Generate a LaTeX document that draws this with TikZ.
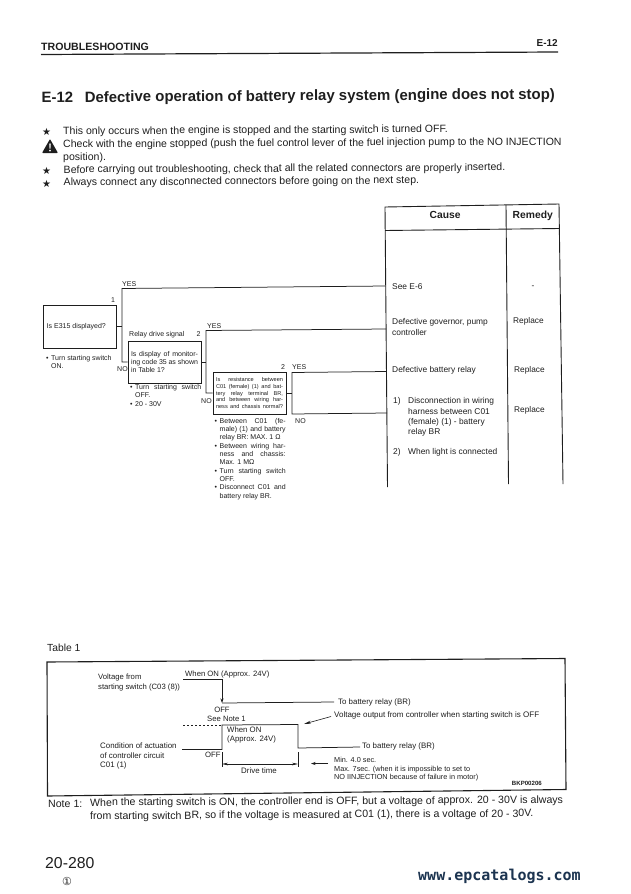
\documentclass[tikz,border=0pt]{standalone}
\usepackage{fontspec}
\setmainfont{Liberation Sans}
\newfontfamily\djv{DejaVu Sans}
\newfontfamily\wmono{DejaVu Sans Mono}
\usetikzlibrary{arrows.meta}
\definecolor{ink}{HTML}{1E1E1E}
\definecolor{wm}{HTML}{1C3450}
\newcommand{\fs}[1]{\fontsize{#1}{#1}\selectfont}
\newcommand{\jl}[2]{\hbox to #1pt{#2}}
\newcommand{\bl}{\llap{•\hskip 2.6pt}}
\newcommand{\tx}[6][]{\node[lbl,#1] (#2) at (#3,#4) {\fs{#5}#6};}
\tikzset{
  lbl/.style={anchor=west,inner sep=0pt,text height=.72em,text depth=.2em,text=ink},
  qbox/.style={draw=ink,line width=.8pt,inner sep=0pt,rectangle,text=ink},
  block/.style={inner sep=0pt,anchor=north west,text=ink},
  wire/.style={draw=ink,line width=.75pt},
  frame/.style={draw=ink,line width=.9pt},
  tip/.style={-{Stealth[length=4.5pt,width=3pt]}},
}
\begin{document}
\begin{tikzpicture}[x=1pt,y=-1pt]
\useasboundingbox (0,0) rectangle (631,894);
% header
\tx{hd}{41}{47.5}{10.6}{\textbf{TROUBLESHOOTING}}
\tx[anchor=east]{hdr}{558}{43.5}{10}{\textbf{E-12}}
\coordinate (rl) at (41,54.5); \coordinate (rr) at (558,52);
\draw[frame,line width=1.2pt] (rl) -- (rr);
\tx[rotate=.4]{title}{41.5}{100}{14.95}{\textbf{E-12\hskip 11.5pt Defective operation of battery relay system (engine does not stop)}}
% notes
\tx{s1}{42}{133}{10}{\djv ★}
\tx[rotate=.3]{n1}{63}{132}{10.55}{This only occurs when the engine is stopped and the starting switch is turned OFF.}
\tx[rotate=.3]{n2}{63}{145}{10.55}{Check with the engine stopped (push the fuel control lever of the fuel injection pump to the NO INJECTION}
\tx{n3}{63}{158}{10.55}{position).}
\tx{s2}{42}{172}{10}{\djv ★}
\tx[rotate=.3]{n4}{63.5}{170.5}{10.55}{Before carrying out troubleshooting, check that all the related connectors are properly inserted.}
\tx{s3}{42}{184.5}{10}{\djv ★}
\tx[rotate=.3]{n5}{63.5}{183}{10.55}{Always connect any disconnected connectors before going on the next step.}
% warning triangle
\fill[ink,rounded corners=.8pt] (42,153) -- (50,139) -- (58,153) -- cycle;
\fill[white] (49.2,143.5) -- (50.8,143.5) -- (50.4,149) -- (49.6,149) -- cycle;
\fill[white] (50,150.6) circle (.9);
% cause table
\coordinate (tl) at (385,207); \coordinate (tr) at (559,204);
\coordinate (hl) at (385,230.5); \coordinate (hr) at (559.5,228.5);
\coordinate (cm) at (506,205); \coordinate (cb) at (508.5,484);
\coordinate (bl) at (387.5,487); \coordinate (br) at (563,484);
\draw[frame] (bl) -- (tl) -- (tr) -- (br);
\draw[frame] (hl) -- (hr);
\draw[frame] (cm) -- (cb);
\node[lbl] (cause) at (429.5,216) {\fs{10.3}\textbf{Cause}};
\node[lbl] (remedy) at (512.5,215.5) {\fs{10.3}\textbf{Remedy}};
\tx{c1t}{392}{287}{8.4}{See E-6}
\tx{c2t}{392}{322}{8.4}{Defective governor, pump}
\tx{c2u}{392}{333}{8.4}{controller}
\tx{c3t}{392}{370}{8.4}{Defective battery relay}
\tx{c4n}{393}{401}{8.4}{1)}
\tx{c4t}{408}{401}{8.4}{Disconnection in wiring}
\tx{c4u}{408}{411.5}{8.4}{harness between C01}
\tx{c4v}{408}{422}{8.4}{(female) (1) - battery}
\tx{c4w}{408}{432}{8.4}{relay BR}
\tx{c5n}{393}{452}{8.4}{2)}
\tx{c5t}{408}{452}{8.4}{When light is connected}
\tx[anchor=center]{r1}{533}{286}{8.3}{-}
\tx{r2}{513}{321}{8.3}{Replace}
\tx{r3}{514}{370}{8.3}{Replace}
\tx{r4}{514}{410}{8.3}{Replace}
% question boxes
\node[qbox,minimum width=73pt,minimum height=43pt] (q1) at (79.7,326.5) {\hbox to 66pt{\fs{7}Is E315 displayed?\hfil}};
\node[qbox,minimum width=73pt,minimum height=42pt] (q2) at (164.5,362) {\fs{7}\vbox{\baselineskip=8.4pt\jl{67}{Is display of monitor-}\jl{67}{ing code 35 as shown}\jl{67}{in Table 1?\hfil}}};
\node[qbox,minimum width=73pt,minimum height=42pt] (q3) at (249.5,393) {\fs{5.6}\vbox{\baselineskip=6.9pt\jl{67}{Is resistance between}\jl{67}{C01 (female) (1) and bat-}\jl{67}{tery relay terminal BR,}\jl{67}{and between wiring har-}\jl{67}{ness and chassis normal?}}};
% connector points
\coordinate (j1) at (122,326.5); \coordinate (u1) at (122,288.5); \coordinate (c1) at (385.6,286);
\coordinate (j2) at (206,362);   \coordinate (u2) at (206,330.5); \coordinate (c2) at (386,329);
\coordinate (j3) at (292,393);   \coordinate (u3) at (292,372.5); \coordinate (c3) at (386.5,371.5);
\coordinate (d3) at (292,414);   \coordinate (c4) at (387,413);
\draw[wire] (q1.east) -- (j1);
\draw[wire] (c1) -- (u1) -- (122,362) -- (q2.west);
\draw[wire] (q2.east) -- (j2);
\draw[wire] (c2) -- (u2) -- (206,393) -- (q3.west);
\draw[wire] (q3.east) -- (j3);
\draw[wire] (c3) -- (u3) -- (d3) -- (c4);
% flow labels
\tx{y1}{122}{283.5}{7}{YES}
\tx[anchor=center]{k1}{113}{299.5}{7}{1}
\tx{no1}{117}{368.5}{7}{NO}
\tx{rd}{129}{334}{7}{Relay drive signal}
\tx[anchor=center]{k2}{198.5}{334}{7}{2}
\tx{y2}{207}{325.5}{7}{YES}
\tx{no2}{201}{401}{7}{NO}
\tx[anchor=center]{k3}{283}{367}{7}{2}
\tx{y3}{292}{367}{7}{YES}
\tx{no3}{295}{420.5}{7}{NO}
% condition lists
\node[block] (l1) at (51,355) {\fs{7}\vbox{\baselineskip=8.4pt\hbox{\bl Turn starting switch}\hbox{ON.}}};
\node[block] (l2) at (135,384) {\fs{7}\vbox{\baselineskip=8.4pt\jl{66}{\bl Turn starting switch}\hbox{OFF.}\hbox{\bl 20 - 30V}}};
\node[block] (l3) at (219.5,418) {\fs{7}\vbox{\baselineskip=8.33pt\jl{66}{\bl Between C01 (fe-}\jl{66}{male) (1) and battery}\jl{66}{relay BR: MAX. 1 Ω\hfil}\jl{66}{\bl Between wiring har-}\jl{66}{ness and chassis:}\hbox{Max. 1 MΩ}\jl{66}{\bl Turn starting switch}\hbox{OFF.}\jl{66}{\bl Disconnect C01 and}\hbox{battery relay BR.}}};
% Table 1
\tx{tb}{47}{649}{10.3}{Table 1}
\coordinate (ba) at (47,662); \coordinate (bb) at (565,658.5);
\coordinate (bc) at (566,789.5); \coordinate (bd) at (47.5,796);
\draw[frame,line width=1.1pt] (ba) -- (bb) -- (bc) -- (bd) -- cycle;
\tx{v1}{98}{677}{7.7}{Voltage from}
\tx{v2}{98}{687}{7.7}{starting switch (C03 (8))}
\tx{w1}{185}{674}{7.7}{When ON (Approx. 24V)}
\tx[anchor=center]{of1}{222}{709.5}{7.7}{OFF}
\tx{sn}{207}{719}{7.7}{See Note 1}
\tx{w2}{227}{730}{7.8}{When ON}
\tx{w3}{227}{739}{7.8}{(Approx. 24V)}
\tx{a1}{100}{746}{7.9}{Condition of actuation}
\tx{a2}{100}{756}{7.9}{of controller circuit}
\tx{a3}{100}{765}{7.9}{C01 (1)}
\tx{of2}{205}{755}{7.7}{OFF}
\tx[anchor=center]{dt}{259}{771}{7.9}{Drive time}
\tx{b1}{338}{702}{7.9}{To battery relay (BR)}
\tx{vo}{334}{714.5}{8}{Voltage output from controller when starting switch is OFF}
\tx{b2}{362}{746}{7.9}{To battery relay (BR)}
\tx{m1}{334}{759.5}{7.3}{Min. 4.0 sec.}
\tx{m2}{334}{768.5}{7.3}{Max. 7sec. (when it is impossible to set to}
\tx{m3}{334}{777}{7.3}{NO IINJECTION because of failure in motor)}
\tx[anchor=east]{bk}{542}{782.5}{6.1}{\textbf{BKP00206}}
% timing traces
\coordinate (p1) at (183,679); \coordinate (p2) at (222,679); \coordinate (p3) at (222,703); \coordinate (p4) at (334,702);
\draw[wire,tip] (p1) -- (p2) -- (p3);
\draw[wire] (p3) -- (p4);
\coordinate (e0) at (183,725); \coordinate (e1) at (222,725); \coordinate (e2) at (298,724.5);
\coordinate (f0) at (182,749.5); \coordinate (f1) at (222,749.5); \coordinate (f2) at (298,748); \coordinate (f3) at (360,747);
\draw[wire,dashed,dash pattern=on 2.2pt off 1.8pt] (e0) -- (e1);
\draw[wire] (f0) -- (f1) -- (e1) -- (e2) -- (f2) -- (f3);
\coordinate (t1a) at (222,752); \coordinate (t1b) at (222,767); \coordinate (t2a) at (298,752); \coordinate (t2b) at (298,767);
\coordinate (t1m) at (222,764); \coordinate (t2m) at (298,764);
\draw[wire,line width=.6pt] (t1a) -- (t1b);
\draw[wire,line width=.6pt] (t2a) -- (t2b);
\draw[wire,line width=.6pt,{Stealth[length=6pt,width=2.6pt]}-{Stealth[length=6pt,width=2.6pt]}] (t1m) -- (t2m);
\coordinate (ma) at (328,763.5); \coordinate (mb) at (311,763.5);
\draw[wire,tip] (ma) -- (mb);
\coordinate (va) at (331,716.5); \coordinate (vb) at (304,724);
\draw[wire,line width=.6pt,-{Stealth[length=7pt,width=3pt]}] (va) -- (vb);
% note
\tx{nt}{48}{805}{10.6}{Note 1:}
\tx[rotate=.35]{nt1}{90}{803.5}{10.6}{When the starting switch is ON, the controller end is OFF, but a voltage of approx. 20 - 30V is always}
\tx[rotate=.35]{nt2}{90}{817}{10.6}{from starting switch BR, so if the voltage is measured at C01 (1), there is a voltage of 20 - 30V.}
% footer
\tx{pg}{45}{866}{15.8}{20-280}
\tx[anchor=center]{rev}{67}{883}{11}{\djv ①}
\node[lbl,text=wm] (www) at (418,878) {\fs{15}\wmono\bfseries www.epcatalogs.com};
\end{tikzpicture}
\end{document}
